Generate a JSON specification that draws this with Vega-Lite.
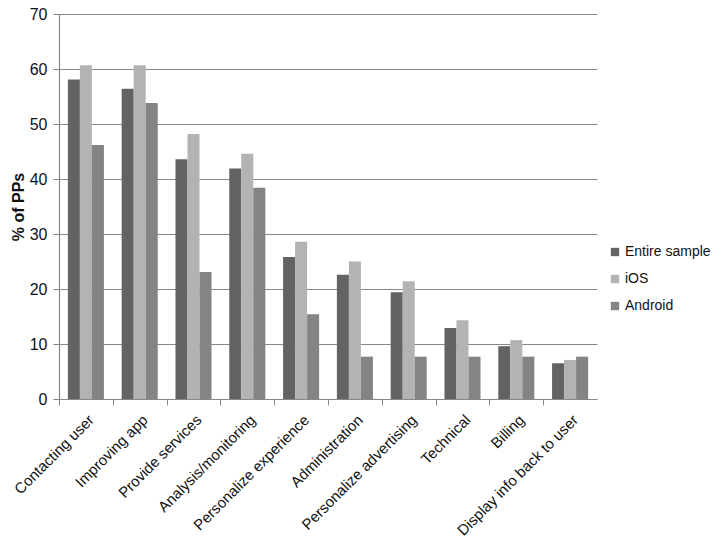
{
  "$schema": "https://vega.github.io/schema/vega-lite/v6.json",
  "width": 538,
  "height": 385,
  "padding": {"left": 10, "top": 6, "right": 0, "bottom": 0},
  "background": "white",
  "config": {
    "font": "Liberation Sans",
    "view": {"stroke": null}
  },
  "data": {
    "values": [
      {"purpose": "Contacting user", "group": "Entire sample", "pct": 58.1},
      {"purpose": "Contacting user", "group": "iOS", "pct": 60.7},
      {"purpose": "Contacting user", "group": "Android", "pct": 46.2},
      {"purpose": "Improving app", "group": "Entire sample", "pct": 56.4},
      {"purpose": "Improving app", "group": "iOS", "pct": 60.7},
      {"purpose": "Improving app", "group": "Android", "pct": 53.8},
      {"purpose": "Provide services", "group": "Entire sample", "pct": 43.6},
      {"purpose": "Provide services", "group": "iOS", "pct": 48.2},
      {"purpose": "Provide services", "group": "Android", "pct": 23.1},
      {"purpose": "Analysis/monitoring", "group": "Entire sample", "pct": 41.9},
      {"purpose": "Analysis/monitoring", "group": "iOS", "pct": 44.6},
      {"purpose": "Analysis/monitoring", "group": "Android", "pct": 38.4},
      {"purpose": "Personalize experience", "group": "Entire sample", "pct": 25.8},
      {"purpose": "Personalize experience", "group": "iOS", "pct": 28.6},
      {"purpose": "Personalize experience", "group": "Android", "pct": 15.4},
      {"purpose": "Administration", "group": "Entire sample", "pct": 22.6},
      {"purpose": "Administration", "group": "iOS", "pct": 25.0},
      {"purpose": "Administration", "group": "Android", "pct": 7.7},
      {"purpose": "Personalize advertising", "group": "Entire sample", "pct": 19.4},
      {"purpose": "Personalize advertising", "group": "iOS", "pct": 21.4},
      {"purpose": "Personalize advertising", "group": "Android", "pct": 7.7},
      {"purpose": "Technical", "group": "Entire sample", "pct": 12.9},
      {"purpose": "Technical", "group": "iOS", "pct": 14.3},
      {"purpose": "Technical", "group": "Android", "pct": 7.7},
      {"purpose": "Billing", "group": "Entire sample", "pct": 9.6},
      {"purpose": "Billing", "group": "iOS", "pct": 10.7},
      {"purpose": "Billing", "group": "Android", "pct": 7.7},
      {"purpose": "Display info back to user", "group": "Entire sample", "pct": 6.5},
      {"purpose": "Display info back to user", "group": "iOS", "pct": 7.1},
      {"purpose": "Display info back to user", "group": "Android", "pct": 7.7}
    ]
  },
  "mark": {"type": "bar"},
  "encoding": {
    "x": {
      "field": "purpose",
      "type": "nominal",
      "sort": null,
      "scale": {"paddingInner": 0.33, "paddingOuter": 0.165},
      "axis": {
        "title": null,
        "labelAngle": -45,
        "labelAlign": "right",
        "labelBaseline": "top",
        "labelFontSize": 15,
        "labelColor": "#111",
        "labelPadding": 7,
        "labelLimit": 300,
        "tickOffset": -26.9,
        "labelOffset": 26.9,
        "tickColor": "#888",
        "tickSize": 6,
        "domainColor": "#888",
        "domainWidth": 1.2,
        "grid": false
      }
    },
    "xOffset": {
      "field": "group",
      "type": "nominal",
      "sort": ["Entire sample", "iOS", "Android"],
      "scale": {"paddingInner": 0, "paddingOuter": 0}
    },
    "y": {
      "field": "pct",
      "type": "quantitative",
      "scale": {"domain": [0, 70], "nice": false},
      "axis": {
        "title": "% of PPs",
        "titleFontSize": 16,
        "titleFontWeight": "bold",
        "titleColor": "#111",
        "titlePadding": 3,
        "values": [0, 10, 20, 30, 40, 50, 60, 70],
        "labelFontSize": 16,
        "labelColor": "#111",
        "labelPadding": 6,
        "tickColor": "#888",
        "tickSize": 6,
        "domainColor": "#888",
        "domainWidth": 1.2,
        "gridColor": "#888",
        "gridWidth": 1.2
      }
    },
    "color": {
      "field": "group",
      "type": "nominal",
      "sort": ["Entire sample", "iOS", "Android"],
      "scale": {
        "domain": ["Entire sample", "iOS", "Android"],
        "range": ["#636363", "#b3b3b3", "#848484"]
      },
      "legend": {
        "title": null,
        "orient": "none",
        "legendX": 549,
        "legendY": 231,
        "symbolType": "square",
        "symbolSize": 70,
        "symbolStrokeWidth": 0,
        "labelFontSize": 14,
        "labelColor": "#111",
        "labelOffset": 3,
        "rowPadding": 13
      }
    }
  }
}
